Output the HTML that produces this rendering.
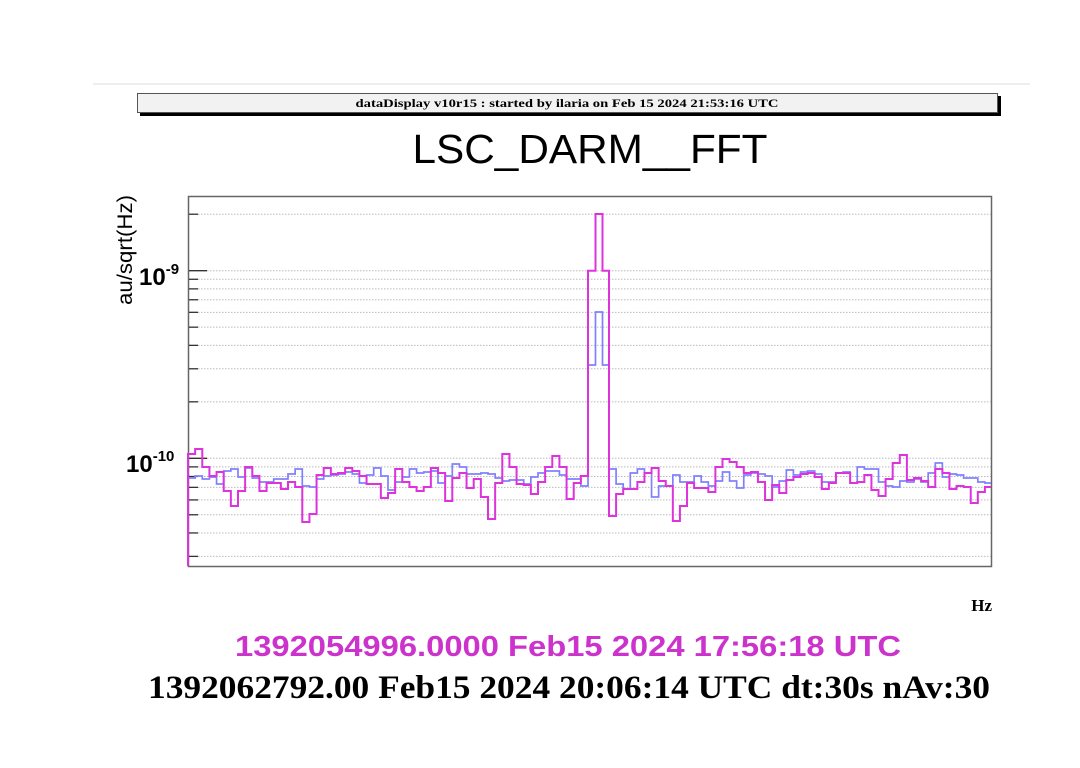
<!DOCTYPE html>
<html><head><meta charset="utf-8"><style>
html,body{margin:0;padding:0;background:#fff;}
svg{display:block;}
</style></head><body>
<svg id="s" width="1080" height="768" xmlns="http://www.w3.org/2000/svg">
<rect width="1080" height="768" fill="#fff"/>
<line x1="93" y1="84" x2="1030" y2="84" stroke="#ddd" stroke-width="1"/>
<rect x="140" y="96" width="861" height="20" fill="#000"/>
<rect x="137.5" y="93.5" width="860" height="19" fill="#f2f2f2" stroke="#555" stroke-width="1"/>
<text x="567" y="107" text-anchor="middle" font-family="Liberation Serif, serif" font-weight="bold" font-size="12" textLength="423" lengthAdjust="spacingAndGlyphs">dataDisplay v10r15 : started by ilaria on Feb 15 2024 21:53:16 UTC</text>
<text x="590" y="163" text-anchor="middle" font-family="Liberation Sans, sans-serif" font-size="41" textLength="355" lengthAdjust="spacingAndGlyphs">LSC_DARM__FFT</text>
<g id="grid"></g>
<rect x="188.5" y="196.5" width="803" height="370" fill="none" stroke="#666" stroke-width="1.5"/>
<g id="ticks"></g>
<path id="blue" fill="none" stroke="#8080ff" stroke-width="1.7"/>
<path id="mag" fill="none" stroke="#dd33dd" stroke-width="2"/>
<text transform="translate(132,250) rotate(-90)" text-anchor="middle" font-family="Liberation Sans, sans-serif" font-size="21" textLength="110" lengthAdjust="spacingAndGlyphs">au/sqrt(Hz)</text>
<text x="139" y="285" font-family="Liberation Sans, sans-serif" font-weight="bold" font-size="24">10<tspan dy="-11" font-size="15">-9</tspan></text>
<text x="126" y="472" font-family="Liberation Sans, sans-serif" font-weight="bold" font-size="24">10<tspan dy="-11" font-size="15">-10</tspan></text>
<text x="992" y="611" text-anchor="end" font-family="Liberation Serif, serif" font-weight="bold" font-size="17">Hz</text>
<text x="568" y="656" text-anchor="middle" fill="#cc33cc" font-family="Liberation Sans, sans-serif" font-weight="bold" font-size="29" textLength="666" lengthAdjust="spacingAndGlyphs">1392054996.0000 Feb15 2024 17:56:18 UTC</text>
<text x="569" y="698" text-anchor="middle" fill="#000" font-family="Liberation Serif, serif" font-weight="bold" font-size="33" textLength="842" lengthAdjust="spacingAndGlyphs">1392062792.00 Feb15 2024 20:06:14 UTC dt:30s nAv:30</text>
</svg>
<script>
(function(){
var NS="http://www.w3.org/2000/svg";
function Y(v){return 270.7-187.6*Math.log10(v/1e-9);}
var g=document.getElementById('grid'),t=document.getElementById('ticks');
var vals=[2e-9,1e-9];for(var k=9;k>=1;k--)vals.push(k*1e-10);for(k=9;k>=3;k--)vals.push(k*1e-11);
vals.forEach(function(v){var y=Y(v);
var l=document.createElementNS(NS,'line');l.setAttribute('x1',189);l.setAttribute('x2',991);l.setAttribute('y1',y);l.setAttribute('y2',y);
l.setAttribute('stroke','#bbb');l.setAttribute('stroke-dasharray','1.5,1.5');l.setAttribute('stroke-width','1');g.appendChild(l);
var maj=(v===1e-9||v===1e-10);
var m=document.createElementNS(NS,'line');m.setAttribute('x1',189);m.setAttribute('x2',maj?207:198);m.setAttribute('y1',y);m.setAttribute('y2',y);
m.setAttribute('stroke','#333');m.setAttribute('stroke-width','1.3');t.appendChild(m);});
var mL=[454,449,467,476,472,491,506,491,467,476,491,483,483,489,482,487,522,514,475,468,474,473,468,471,476,484,484,498,493,469,482,487,491,487,468,473,501,478,473,488,479,497,519,483,454,467,484,485,494,482,467,456,467,499,483,476,471];
var bL=[478,476,479,477,484,471,469,477,468,478,482,482,479,479,474,469,486,487,479,476,475,474,472,474,483,475,468,476,490,482,477,469,473,472,471,483,476,464,467,474,474,473,474,478,481,480,480,484,477,473,471,471,475,479,479,486,472];
var mR=[516,494,489,489,482,473,468,481,486,521,506,483,488,488,492,467,459,462,467,473,472,482,500,485,493,480,477,474,473,477,489,483,473,473,483,482,475,490,496,479,463,455,480,478,481,487,469,473,489,486,487,503,492,487,491,488];
var bR=[469,484,489,473,469,473,497,486,486,475,482,482,476,482,486,481,472,481,488,475,473,474,476,487,481,470,475,472,471,474,482,482,473,472,483,467,469,469,482,486,487,481,482,479,482,473,463,477,474,475,478,478,482,483,486,483];
function build(L,S,R,start){
var nL=56,nR=54,xs=[],ys=[];var wL=400/nL,wR=383/nR;
for(var i=0;i<nL;i++){xs.push(188+i*wL);ys.push(L[i]);}
xs.push(588);ys.push(S[0]);xs.push(595.5);ys.push(S[1]);xs.push(602.5);ys.push(S[2]);
for(i=0;i<nR;i++){xs.push(609+i*wR);ys.push(R[i]);}
xs.push(991);
var d='M'+xs[0]+','+start;
for(i=0;i<ys.length;i++){d+=' L'+xs[i]+','+ys[i]+' L'+xs[i+1]+','+ys[i];}
return d;}
document.getElementById('mag').setAttribute('d',build(mL,[270.7,214,270.7],mR,566));
document.getElementById('blue').setAttribute('d',build(bL,[365,312,365],bR,478));
})();
</script>
</body></html>
